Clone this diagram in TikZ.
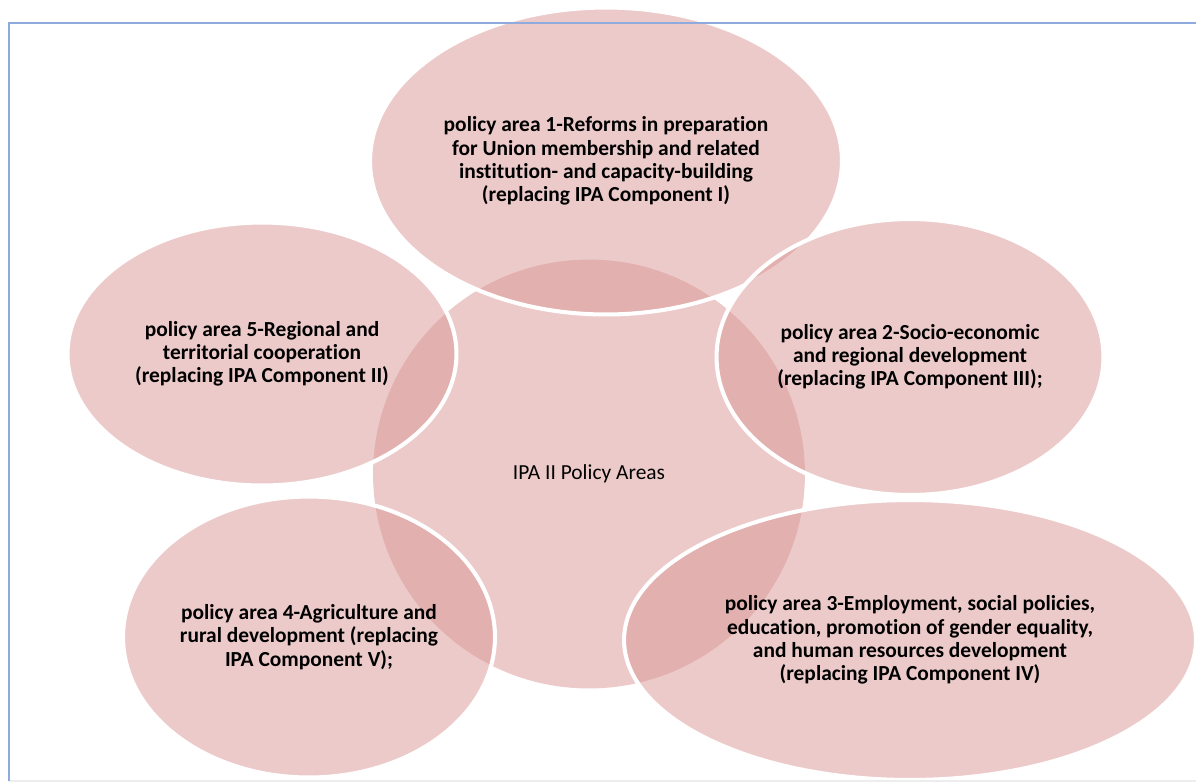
\documentclass[tikz,border=0pt]{standalone}
\usepackage{fontspec}
\setmainfont{Carlito}[Ligatures=NoCommon]
\usetikzlibrary{shapes.geometric}
\definecolor{areapink}{HTML}{D99694}
\definecolor{frameblue}{HTML}{8FAADC}

\begin{document}
\begin{tikzpicture}[x=0.02cm,y=-0.02cm,
    area/.style={ellipse,fill=areapink,fill opacity=0.5,text opacity=1,inner sep=0pt,align=center,font=\fontsize{12.2}{13.2}\selectfont},
    policy/.style={area,draw=white,line width=2.3pt,font=\fontsize{12.2}{13.2}\selectfont\bfseries}]
    \useasboundingbox (0,0) rectangle (1196,782);
    % centre and the five policy areas
    \node (core) at (589,474) [area,minimum width=8.64cm,minimum height=8.58cm] {IPA II Policy Areas};
    \node (pa1) at (606,161) [policy,minimum width=9.44cm,minimum height=6.14cm] {policy area 1-Reforms in preparation\\for Union membership and related\\institution- and capacity-building\\(replacing IPA Component I)};
    \node (pa2) at (910,357) [policy,minimum width=7.74cm,minimum height=5.52cm] {policy area 2-Socio-economic\\and regional development\\(replacing IPA Component III);};
    \node (pa3) at (910,640) [policy,minimum width=11.44cm,minimum height=5.6cm] {policy area 3-Employment, social policies,\\education, promotion of gender equality,\\and human resources development\\(replacing IPA Component IV)};
    \node (pa4) at (309,637) [policy,minimum width=7.44cm,minimum height=5.62cm] {policy area 4-Agriculture and\\rural development (replacing\\IPA Component V);};
    \node (pa5) at (262,354) [policy,minimum width=7.78cm,minimum height=5.26cm] {policy area 5-Regional and\\territorial cooperation\\(replacing IPA Component II)};
    % frame
    \draw[black!7,line width=0.8pt] (9,781) -- (1196,781);
    \draw[frameblue,line width=1pt] (9,781) -- (9,23) -- (1196,23);
\end{tikzpicture}
\end{document}
